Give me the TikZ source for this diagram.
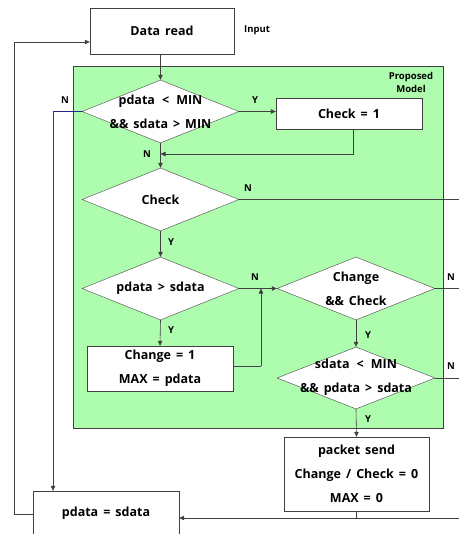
\documentclass[tikz,border=0pt]{standalone}
\usepackage{fontspec}
\setmainfont{Open Sans}
\usetikzlibrary{shapes.geometric,arrows.meta,calc}
\definecolor{grn}{RGB}{174,252,174}
\definecolor{lnc}{RGB}{64,64,64}
\newcommand{\mainfnt}{\bfseries\fontsize{12.5}{24}\selectfont\spaceskip=0.4em plus 0.1em}
\begin{document}
\begin{tikzpicture}[x=1pt,y=-1pt,
 box/.style={draw=lnc,fill=white,inner sep=0pt,font=\mainfnt,align=center},
 dia/.style={diamond,draw=lnc,fill=white,inner sep=0pt,minimum width=157pt,minimum height=63pt},
 dtext/.style={inner sep=0pt,font=\mainfnt,align=center},
 lbl/.style={font=\bfseries\fontsize{9.5}{11}\selectfont,inner sep=0pt},
 arr/.style={draw=lnc,line width=0.6pt,-{Triangle[length=5pt,width=4.5pt]}},
 wire/.style={draw=lnc,line width=0.6pt}
]
\useasboundingbox (0,0) rectangle (459,534);
\fill[white] (0,0) rectangle (459,534);
\node[draw=lnc,fill=grn,line width=0.8pt,minimum width=370pt,minimum height=362pt,inner sep=0pt] (model) at (258,247) {};
\node[lbl,align=center,font=\bfseries\fontsize{9.5}{13}\selectfont] (pm) at (411,82.5) {Proposed\\Model};

\node[box,minimum width=144pt,minimum height=46pt] (dr) at (162,31) {Data read};
\node[lbl] (inp) at (257,30) {Input};

\node[dia] (d1) at (160.5,111.5) {};
\node[dtext] (t1) at (d1.center) {pdata \,<\, MIN\\\&\& sdata > MIN};
\node[box,minimum width=146pt,minimum height=31pt] (c1) at (349,113.5) {Check = 1};
\node[dia] (d2) at (160.5,199.5) {};
\node[dtext] (t2) at (d2.center) {Check};
\node[dia] (d3) at (160.5,288.5) {};
\node[dtext] (t3) at (d3.center) {pdata > sdata};
\node[dia,minimum width=158pt] (d4) at (356,288.5) {};
\node[dtext] (t4) at (d4.center) {Change\\\&\& Check};
\node[dia,minimum width=158pt,minimum height=62pt] (d5) at (356,378) {};
\node[dtext] (t5) at ([yshift=1pt]d5.center) {sdata \,<\, MIN\\\&\& pdata > sdata};
\node[box,minimum width=146pt,minimum height=45pt] (b1) at (160,368.5) {Change = 1\\MAX = pdata};
\node[box,minimum width=145pt,minimum height=74pt] (ps) at (356.5,474) {packet send\\Change / Check = 0\\MAX = 0};
\node[box,minimum width=146pt,minimum height=44pt] (pds) at (106,513) {pdata = sdata};

% labels
\node[lbl] (l1) at (65,100) {N};
\node[lbl] (l2) at (255,100) {Y};
\node[lbl] (l3) at (147,154) {N};
\node[lbl] (l4) at (248,188) {N};
\node[lbl] (l5) at (171,242) {Y};
\node[lbl] (l6) at (255,277) {N};
\node[lbl] (l7) at (171,330) {Y};
\node[lbl] (l8) at (451,277) {N};
\node[lbl] (l9) at (368,335) {Y};
\node[lbl] (l10) at (451,366) {N};
\node[lbl] (l11) at (368,419) {Y};

% coordinates
\coordinate (j1) at (160.5,154);
\coordinate (e1) at (459,199.5);
\coordinate (e2) at (459,288.5);
\coordinate (e3) at (459,378);
\coordinate (e4) at (459,518);
\coordinate (lx) at (53,111.5);
\coordinate (ox) at (14,42);
\coordinate (ux) at (261,366);

% connectors
\draw[arr] (dr.south -| d1.north) -- (d1.north);
\draw[arr] (d1.east) -- (c1.west |- d1.east);
\draw[arr] ([xshift=4pt]c1.south) |- (j1);
\draw[arr] (d1.south) -- (d2.north);
\draw[wire,draw=blue!40!lnc] (d1.west) -- (lx);
\draw[arr] (lx) -- (lx |- pds.north);
\draw[wire] (d2.east) -- (e1);
\draw[arr] (d2.south) -- (d3.north);
\draw[arr] (d3.east) -- (d4.west);
\draw[arr] (d3.south) -- (b1.north);
\draw[wire] (b1.east |- ux) -- (ux);
\draw[arr] (ux) -- (ux |- d3.east);
\draw[wire] (d4.east) -- (e2);
\draw[arr] (d4.south) -- (d5.north);
\draw[wire] (d5.east) -- (e3);
\draw[arr] (d5.south) -- (ps.north);
\draw[wire] (ps.south) -- (ps.south |- e4);
\draw[arr] (e4) -- (e4 -| pds.east);
\draw[wire] ([yshift=-1pt]pds.west) -| (ox);
\draw[arr] (ox) -- (ox -| dr.west);
\end{tikzpicture}
\end{document}
